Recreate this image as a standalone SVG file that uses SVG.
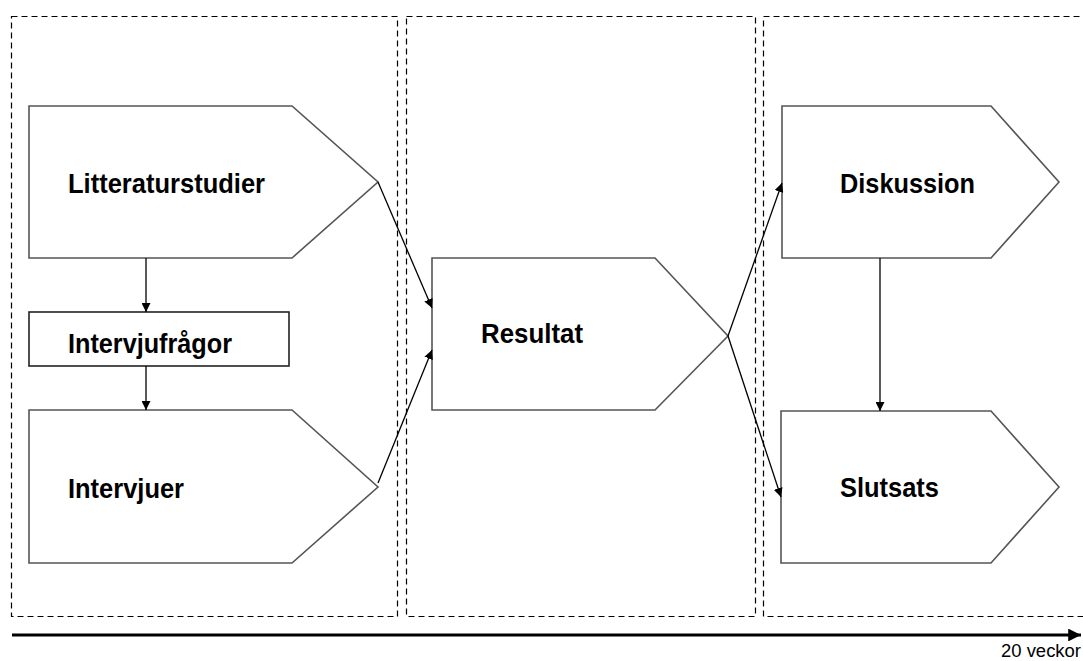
<svg xmlns="http://www.w3.org/2000/svg" width="1083" height="661" viewBox="0 0 1083 661">
<style>
.frame{fill:none;stroke:#000;stroke-width:1.2;stroke-dasharray:6 4}
.shape{fill:#fff;stroke:#555;stroke-width:1.6}
.lbl{font-family:"Liberation Sans",Arial,sans-serif;font-weight:bold;font-size:27px;fill:#000}
.conn{fill:none;stroke:#000;stroke-width:1.3}
</style>
<defs>
<marker id="ah" viewBox="0 0 10 10" refX="10" refY="5" markerWidth="9" markerHeight="9" markerUnits="userSpaceOnUse" orient="auto">
<path d="M0,0 L10,5 L0,10 z" fill="#000"/>
</marker>
<marker id="ahBig" viewBox="0 0 10 10" refX="10" refY="5" markerWidth="4" markerHeight="4" orient="auto">
<path d="M0,0 L10,5 L0,10 z" fill="#000"/>
</marker>
</defs>
<rect width="1083" height="661" fill="#fff"/>
<g id="frames">
<rect class="frame" x="11.5" y="16.5" width="386" height="600"/>
<rect class="frame" x="406.5" y="16.5" width="349" height="600"/>
<rect class="frame" x="763.5" y="16.5" width="340" height="600"/>
</g>
<g id="litteraturstudier">
<polygon class="shape" points="29,106 292,106 378,182 292,258 29,258"/>
<text class="lbl" x="68" y="193" textLength="197" lengthAdjust="spacingAndGlyphs">Litteraturstudier</text>
</g>
<g id="intervjufragor">
<rect class="shape" x="29" y="312" width="260" height="54" style="stroke:#222"/>
<text class="lbl" x="68" y="353" textLength="164" lengthAdjust="spacingAndGlyphs">Intervjufrågor</text>
</g>
<g id="intervjuer">
<polygon class="shape" points="29,410 292,410 378,487 292,563 29,563"/>
<text class="lbl" x="68" y="498" textLength="116" lengthAdjust="spacingAndGlyphs">Intervjuer</text>
</g>
<g id="resultat">
<polygon class="shape" points="432,258 655,258 728,336 655,410 432,410"/>
<text class="lbl" x="481" y="343" textLength="102" lengthAdjust="spacingAndGlyphs">Resultat</text>
</g>
<g id="diskussion">
<polygon class="shape" points="782,106 991,106 1059,182 991,258 782,258"/>
<text class="lbl" x="840" y="193" textLength="135" lengthAdjust="spacingAndGlyphs">Diskussion</text>
</g>
<g id="slutsats">
<polygon class="shape" points="781,411 991,411 1059,487 991,563 781,563"/>
<text class="lbl" x="840" y="497" textLength="99" lengthAdjust="spacingAndGlyphs">Slutsats</text>
</g>
<g id="connectors">
<line class="conn" x1="146" y1="258" x2="146" y2="312" marker-end="url(#ah)"/>
<line class="conn" x1="146" y1="366" x2="146" y2="410" marker-end="url(#ah)"/>
<line class="conn" x1="378" y1="182" x2="432" y2="308" marker-end="url(#ah)"/>
<line class="conn" x1="378" y1="483" x2="432" y2="350" marker-end="url(#ah)"/>
<line class="conn" x1="728" y1="336" x2="782" y2="183" marker-end="url(#ah)"/>
<line class="conn" x1="728" y1="336" x2="781" y2="497" marker-end="url(#ah)"/>
<line class="conn" x1="880" y1="258" x2="880" y2="411" marker-end="url(#ah)"/>
</g>
<g id="timeline">
<line x1="12" y1="635" x2="1081" y2="635" stroke="#000" stroke-width="3.2" marker-end="url(#ahBig)"/>
<text x="1001" y="657" textLength="80" lengthAdjust="spacingAndGlyphs" font-family="'Liberation Sans',Arial,sans-serif" font-size="18" fill="#000">20 veckor</text>
</g>
</svg>
